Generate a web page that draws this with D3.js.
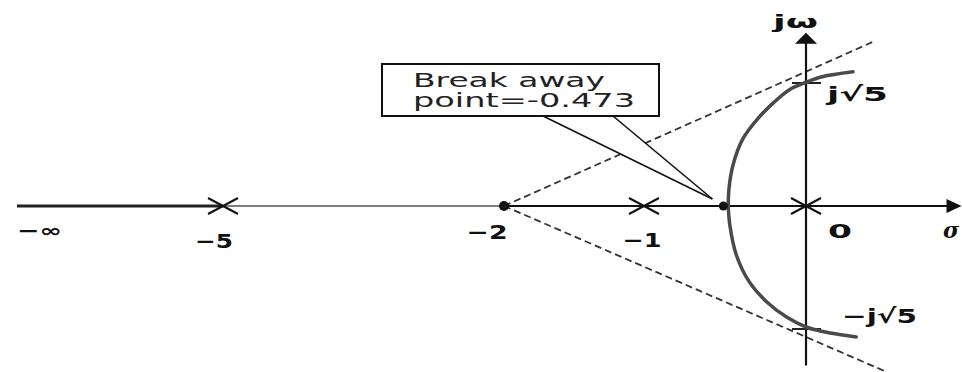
<!DOCTYPE html>
<html><head><meta charset="utf-8">
<script src="https://cdn.jsdelivr.net/npm/d3@7"></script>
<style>body{margin:0;background:#fff}svg{display:block}</style>
</head><body><svg id="c" width="962" height="372"></svg>
<script>
// ---- data ----
const poles = [-5, -1, 0];
const centroid = -2;
const breakawayValue = -0.473;
const breakawayDot = -0.51;
const crossing = 2.236;
const upperBranch = [[-0.48,0],[-0.475,0.33],[-0.45,0.75],[-0.39,1.22],[-0.30,1.58],[-0.20,1.88],[-0.10,2.12],[0,2.25],[0.10,2.35],[0.29,2.44]];
const lowerBranch = [[-0.48,0],[-0.47,-0.35],[-0.43,-0.89],[-0.35,-1.38],[-0.24,-1.75],[-0.12,-2.02],[0,-2.20],[0.15,-2.31],[0.31,-2.38]];
const asymptoteEnds = [[0.41, 2.98], [0.50, -3.02]];
const realTicks = [-5, -2, -1, 0];
const realTickLabels = ["-5", "-2", "-1", "0"];
const sigmaExtent = [-7.2, 0.96];
const omegaExtent = [-2.9, 3.15];

// ---- layout ----
const tickLabelLayout = [
  {dx:-9, y:248, w:38}, {dx:-17, y:239, w:41}, {dx:-2, y:247, w:39}, {dx:34, y:238, w:24}
];

const svg = d3.select("#c");
const x = d3.scaleLinear().domain([-5,-2,-1,0]).range([223,504,644,806]);
const y = d3.scaleLinear().domain([0,1]).range([206,151]);

// asymptotes (dashed)
svg.selectAll("line.asym").data(asymptoteEnds).join("line")
  .attr("x1", x(centroid)).attr("y1", y(0))
  .attr("x2", d=>x(d[0])).attr("y2", d=>y(d[1]))
  .attr("stroke","#333").attr("stroke-width",1.8).attr("stroke-dasharray","7,4");

// real axis segments
const xa = x(sigmaExtent[0]), xb = x(sigmaExtent[1]);
svg.append("line").attr("x1",xa).attr("x2",x(-5)).attr("y1",y(0)).attr("y2",y(0)).attr("stroke","#222").attr("stroke-width",3);
svg.append("line").attr("x1",x(-5)).attr("x2",x(centroid)).attr("y1",y(0)).attr("y2",y(0)).attr("stroke","#555").attr("stroke-width",1.5);
svg.append("line").attr("x1",x(centroid)).attr("x2",xb-12).attr("y1",y(0)).attr("y2",y(0)).attr("stroke","#111").attr("stroke-width",2.2);
svg.append("path").attr("d",`M${xb},${y(0)} L${xb-15},${y(0)-7} L${xb-15},${y(0)+7} Z`).attr("fill","#111");

// imaginary axis
const yt = y(omegaExtent[1]), yb = y(omegaExtent[0]);
svg.append("line").attr("x1",x(0)).attr("x2",x(0)).attr("y1",yt+9).attr("y2",yb).attr("stroke","#111").attr("stroke-width",2.2);
svg.append("path").attr("d",`M${x(0)},${yt} L${x(0)-11},${yt+11} L${x(0)+11},${yt+11} Z`).attr("fill","#111");

// crossing ticks
[crossing, -crossing].forEach(v=>{
  svg.append("line").attr("x1",x(0)-14).attr("x2",x(0)+15).attr("y1",y(v)).attr("y2",y(v)).attr("stroke","#222").attr("stroke-width",2);
});

// root locus branches
const line = d3.line().x(d=>x(d[0])).y(d=>y(d[1])).curve(d3.curveCatmullRom.alpha(0.5));
[upperBranch, lowerBranch].forEach(b=>{
  svg.append("path").attr("d",line(b)).attr("fill","none").attr("stroke","#4a4a4a").attr("stroke-width",3.5).attr("stroke-linecap","round");
});

// poles (X)
svg.selectAll("path.pole").data(poles).join("path")
  .attr("d", d=>{const cx=x(d), cy=y(0); return `M${cx-15},${cy-8}L${cx+15},${cy+8}M${cx-15},${cy+8}L${cx+15},${cy-8}`;})
  .attr("stroke","#111").attr("stroke-width",2).attr("fill","none");

// dots
svg.append("circle").attr("cx",x(centroid)).attr("cy",y(0)).attr("r",5).attr("fill","#111");
svg.append("circle").attr("cx",x(breakawayDot)).attr("cy",y(0)).attr("r",4.5).attr("fill","#111");

// callout
const tipX = x(breakawayDot)-11, tipY = y(0)-7;
svg.append("path").attr("d",`M543,116 L${tipX},${tipY} L613,116 Z`).attr("fill","#fff");
svg.append("line").attr("x1",543).attr("y1",116).attr("x2",tipX).attr("y2",tipY).attr("stroke","#111").attr("stroke-width",1.6);
svg.append("line").attr("x1",613).attr("y1",116).attr("x2",tipX).attr("y2",tipY).attr("stroke","#111").attr("stroke-width",1.6);
svg.append("rect").attr("x",382).attr("y",64).attr("width",277).attr("height",52).attr("fill","#fff").attr("stroke","#111").attr("stroke-width",2);
const ft = "DejaVu Sans, Verdana, sans-serif";
svg.append("text").attr("x",413).attr("y",87).attr("font-family",ft).attr("font-size",19).attr("fill","#222")
  .attr("textLength",192).attr("lengthAdjust","spacingAndGlyphs").text("Break away");
svg.append("text").attr("x",413).attr("y",107).attr("font-family",ft).attr("font-size",19).attr("fill","#222")
  .attr("textLength",222).attr("lengthAdjust","spacingAndGlyphs").text("point=" + breakawayValue);

// tick labels
realTicks.forEach((t,i)=>{
  const L = tickLabelLayout[i];
  svg.append("text").attr("x",x(t)+L.dx).attr("y",L.y).attr("text-anchor","middle")
    .attr("font-family",ft).attr("font-weight","bold").attr("font-size",20).attr("fill","#111")
    .attr("textLength",L.w).attr("lengthAdjust","spacingAndGlyphs").text(realTickLabels[i].replace("-","\u2212"));
});
// -infinity
svg.append("text").attr("x",17).attr("y",237).attr("font-family",ft).attr("font-weight","bold").attr("font-size",18).attr("fill","#111")
  .attr("textLength",45).attr("lengthAdjust","spacingAndGlyphs").text("\u2212\u221E");
// sigma
svg.append("text").attr("x",943).attr("y",238).attr("font-family","DejaVu Serif, serif").attr("font-style","italic").attr("font-weight","bold").attr("font-size",22).attr("fill","#111").text("\u03C3");
// j omega
svg.append("text").attr("x",773).attr("y",28).attr("font-family",ft).attr("font-weight","bold").attr("font-size",18).attr("fill","#111")
  .attr("textLength",45).attr("lengthAdjust","spacingAndGlyphs").text("j\u03C9");
// j sqrt5
svg.append("text").attr("x",827).attr("y",101).attr("font-family",ft).attr("font-weight","bold").attr("font-size",20).attr("fill","#111")
  .attr("textLength",61).attr("lengthAdjust","spacingAndGlyphs").text("j\u221A5");
svg.append("text").attr("x",842).attr("y",323).attr("font-family",ft).attr("font-weight","bold").attr("font-size",20).attr("fill","#111")
  .attr("textLength",75).attr("lengthAdjust","spacingAndGlyphs").text("\u2212j\u221A5");
</script></body></html>
